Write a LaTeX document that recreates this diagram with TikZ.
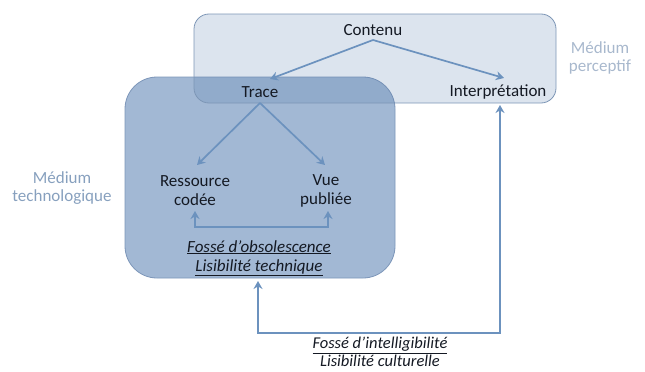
\documentclass[tikz,border=0pt]{standalone}
\usepackage{fontspec}
\setmainfont{Carlito}
\usetikzlibrary{arrows.meta}
\definecolor{darkfill}{RGB}{162,184,212}
\definecolor{darkedge}{RGB}{125,150,185}
\definecolor{lightfill}{RGB}{80,120,170}
\definecolor{lightedge}{RGB}{125,150,182}
\definecolor{arrowc}{RGB}{108,146,190}
\definecolor{txt}{RGB}{20,25,35}
\definecolor{medc}{RGB}{135,160,190}
\definecolor{medcl}{RGB}{168,184,205}
\tikzset{
  lbl/.style={font=\fontsize{17}{19}\selectfont, text=txt, align=center, inner sep=1pt},
  ital/.style={font=\fontsize{17}{19}\selectfont\itshape, text=txt, align=center, inner sep=1pt},
  itals/.style={font=\fontsize{16.5}{17.5}\selectfont\itshape, text=txt, align=center, inner sep=0pt},
  med/.style={font=\fontsize{17}{18.5}\selectfont, align=center, inner sep=1pt},
  conn/.style={draw=arrowc, line width=1.7pt, -{Stealth[length=8pt,width=9pt]}},
  conn2/.style={draw=arrowc, line width=1.7pt, {Stealth[length=8pt,width=9pt]}-{Stealth[length=8pt,width=9pt]}},
}
\begin{document}
\begin{tikzpicture}[x=1pt,y=-1pt]
\useasboundingbox (0,0) rectangle (645,372);
% boxes
\node[draw=darkedge, line width=0.8pt, fill=darkfill, rounded corners=32pt,
      minimum width=270pt, minimum height=201pt, inner sep=0pt] (tech) at (260,177.5) {};
\node[draw=lightedge, line width=0.8pt, fill=lightfill, fill opacity=0.2, draw opacity=1, rounded corners=15pt,
      minimum width=362pt, minimum height=89pt, inner sep=0pt] (perc) at (375,58.5) {};
% side labels
\node[med, text=medcl] (medperc) at (600,58) {Médium\\perceptif};
\node[med, text=medc] (medtech) at (62,188) {Médium\\technologique};
% nodes
\node[lbl] (contenu) at (373,30) {Contenu};
\node[lbl] (trace) at (260,92) {Trace};
\node[lbl] (interp) at (498,92) {Interprétation};
\node[lbl] (ress) at (195,191) {Ressource\\codée};
\node[lbl] (vue) at (326,191) {Vue\\publiée};
\node[ital] (obs) at (259,258) {\underline{Fossé d’obsolescence}\\\underline{Lisibilité technique}};
\node[itals] (intel) at (380,352) {\underline{Fossé d’intelligibilité}\\Lisibilité culturelle};
% coordinates
\coordinate (cs) at (373,40);
\coordinate (tt) at (270,79);
\coordinate (it) at (504,78);
\coordinate (ts) at (260,103);
\coordinate (rt) at (197,165);
\coordinate (vt) at (325,165);
\coordinate (rb) at (195,211);
\coordinate (vb) at (328,211);
\coordinate (tb) at (258,281);
\coordinate (ib) at (500,105);
% connectors
\draw[conn] (cs) -- (tt);
\draw[conn] (cs) -- (it);
\draw[conn] (ts) -- (rt);
\draw[conn] (ts) -- (vt);
\draw[conn2] (rb) -- (195,227) -- (328,227) -- (vb);
\draw[conn2] (tb) -- (258,333) -- (500,333) -- (ib);
\end{tikzpicture}
\end{document}
